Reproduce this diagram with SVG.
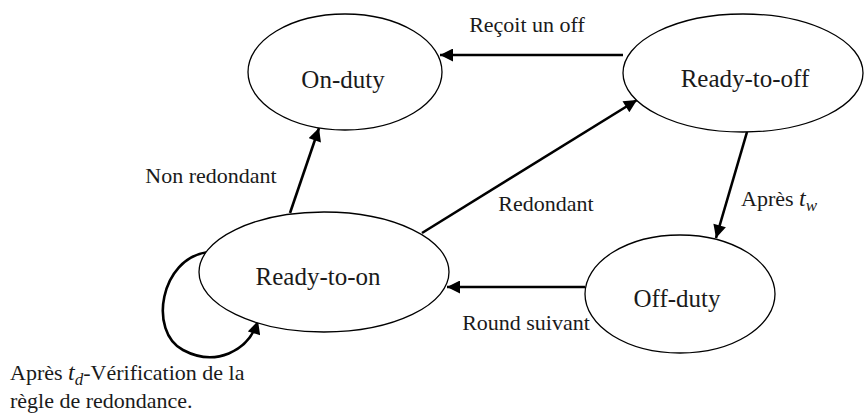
<svg xmlns="http://www.w3.org/2000/svg" width="864" height="417" viewBox="0 0 864 417">
<style>
.node ellipse{fill:#fff;stroke:#000;stroke-width:1.3}
.nt{font-family:'Liberation Serif','Times New Roman',serif;font-size:25px;fill:#1a1a1a;text-anchor:middle}
.lbl{font-family:'Liberation Serif','Times New Roman',serif;font-size:22px;fill:#1a1a1a}
.c{text-anchor:middle}
.m{font-style:italic}
.edge{fill:none;stroke:#000;stroke-width:2.6}
</style>
<defs>
<marker id="ah" viewBox="0 0 10 10" refX="10" refY="5" markerWidth="15" markerHeight="13" markerUnits="userSpaceOnUse" orient="auto">
<path d="M0,0 L10,5 L0,10 z" fill="#000"/>
</marker>
</defs>
<rect width="864" height="417" fill="#fff"/>
<g id="connectors">
<path class="edge" d="M623,55 L440,55" marker-end="url(#ah)"/>
<path class="edge" d="M290,213 L319,128" marker-end="url(#ah)"/>
<path class="edge" d="M422,233 L637,100" marker-end="url(#ah)"/>
<path class="edge" d="M747,132 L716,238" marker-end="url(#ah)"/>
<path class="edge" d="M585,287 L447,287" marker-end="url(#ah)"/>
<path class="edge" d="M208,252 C160,258 148,332 183,350 C215,367 248,352 258,321" marker-end="url(#ah)"/>
</g>
<g id="on-duty" class="node">
<ellipse cx="345" cy="72" rx="97" ry="58"/>
<text class="nt" x="343" y="88">On-duty</text>
</g>
<g id="ready-to-off" class="node">
<ellipse cx="743" cy="73" rx="120" ry="59"/>
<text class="nt" x="745" y="87">Ready-to-off</text>
</g>
<g id="ready-to-on" class="node">
<ellipse cx="324" cy="272" rx="125" ry="60"/>
<text class="nt" x="318" y="285">Ready-to-on</text>
</g>
<g id="off-duty" class="node">
<ellipse cx="680" cy="294" rx="95" ry="59"/>
<text class="nt" x="677" y="307">Off-duty</text>
</g>
<g id="labels">
<text class="lbl c" x="527" y="32">Reçoit un off</text>
<text class="lbl c" x="211" y="183" font-size="23.5">Non redondant</text>
<text class="lbl c" x="546" y="211">Redondant</text>
<text class="lbl" x="741" y="206">Après <tspan class="m" font-size="24">t</tspan><tspan class="m" font-size="17" dy="5">w</tspan></text>
<text class="lbl c" x="526" y="330">Round suivant</text>
<text class="lbl" x="10" y="380" font-size="23">Après <tspan class="m" font-size="24">t</tspan><tspan class="m" font-size="17" dy="5">d</tspan><tspan dy="-5">-Vérification de la</tspan></text>
<text class="lbl" x="10" y="408" font-size="23">règle de redondance.</text>
</g>
</svg>
